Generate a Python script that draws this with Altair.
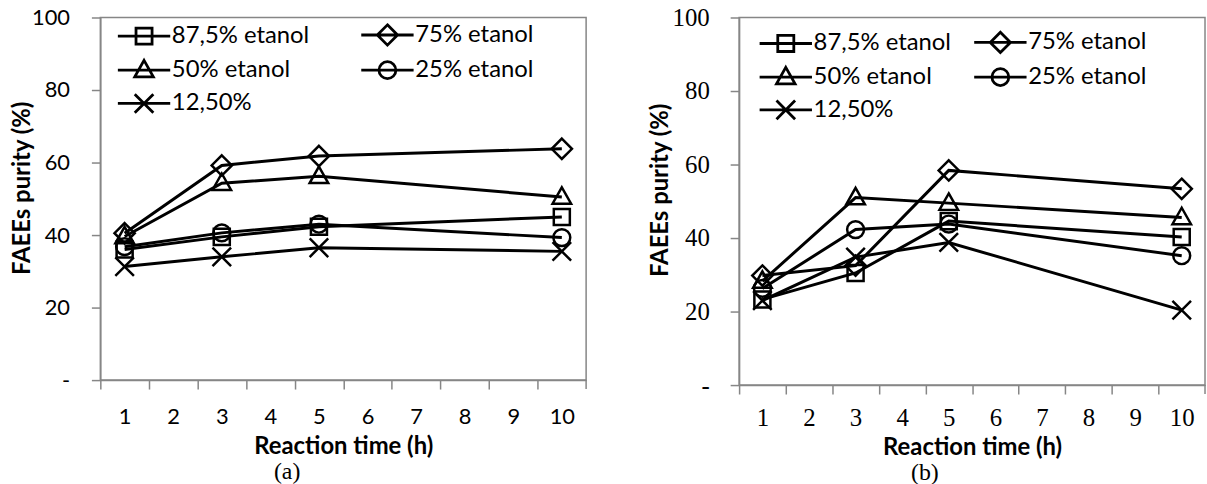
import altair as alt
import pandas as pd

# ---------------- data ----------------
times = [1, 3, 5, 10]
series = ["87,5% etanol", "75% etanol", "50% etanol", "25% etanol", "12,50%"]

a_875 = [36.0, 39.5, 42.3, 45.0]
a_75 = [40.5, 59.2, 61.8, 63.8]
a_50 = [39.6, 54.3, 56.2, 50.5]
a_25 = [36.8, 40.6, 43.0, 39.3]
a_125 = [31.3, 34.0, 36.5, 35.5]

b_875 = [23.3, 30.5, 44.6, 40.3]
b_75 = [29.8, 32.5, 58.4, 53.4]
b_50 = [28.3, 51.0, 49.5, 45.6]
b_25 = [26.3, 42.3, 43.8, 35.2]
b_125 = [23.0, 34.8, 38.8, 20.4]

x_labels = [1, 2, 3, 4, 5, 6, 7, 8, 9, 10]
x_ticks = [v - 0.5 for v in x_labels]          # left boundary of each category
x_end = [x_labels[-1] + 0.5]                   # right boundary of the last category
y_ticks = [0, 20, 40, 60, 80, 100]


def frame(vals):
    rows = []
    for name, ys in zip(series, vals):
        for t, v in zip(times, ys):
            rows.append({"series": name, "time": t, "purity": v})
    return pd.DataFrame(rows)


df_a = frame([a_875, a_75, a_50, a_25, a_125])
df_b = frame([b_875, b_75, b_50, b_25, b_125])
df_end = pd.DataFrame({"time": x_end})

# marker shapes (unit paths)
m_square = "M-0.95,-0.95H0.95V0.95H-0.95Z"
m_diamond = "M0,-1.2L1.2,0L0,1.2L-1.2,0Z"
m_triangle = "M0,-1.15L1.1,0.8H-1.1Z"
m_circle = "M1,0A1,1,0,1,1,-1,0A1,1,0,1,1,1,0Z"
m_x = "M-1.1,-1.1L1.1,1.1M1.1,-1.1L-1.1,1.1"
markers = [m_square, m_diamond, m_triangle, m_circle, m_x]
seg = "M-3.1,0H3.1"
legend_markers = [seg + m for m in markers]

GRAY = "#868686"


def panel(df, w, h, tick_font, tick_fs, xlab_pad, xtitle_pad, ylab_pad,
          ytitle_x, ytitle_y, leg_x, leg_y, col_pad, row_pad, tag, tag_dx, tag_off):
    cat_w = w / len(x_labels)
    xscale = alt.Scale(domain=[x_ticks[0], x_end[0]], nice=False, zero=False)
    x = alt.X(
        "time:Q",
        scale=xscale,
        axis=alt.Axis(
            values=x_ticks,
            labelExpr="format(datum.value + 0.5, 'd')",
            labelOffset=cat_w / 2,
            labelFlush=False,
            labelOverlap=False,
            tickSize=9,
            labelPadding=xlab_pad,
            labelFont=tick_font,
            labelFontSize=tick_fs,
            title="Reaction time (h)",
            titleFont="Lato",
            titleFontWeight="bold",
            titleFontSize=24,
            titlePadding=xtitle_pad,
        ),
    )
    y = alt.Y(
        "purity:Q",
        scale=alt.Scale(domain=[0, 100], nice=False, zero=True),
        axis=alt.Axis(
            values=y_ticks,
            labelExpr="datum.value == 0 ? '-' : datum.label",
            labelFlush=False,
            labelOverlap=False,
            tickSize=9,
            labelPadding=ylab_pad,
            labelFont=tick_font,
            labelFontSize=tick_fs,
            title="FAEEs purity (%)",
            titleFont="Lato",
            titleFontWeight="bold",
            titleFontSize=24,
            titleX=ytitle_x,
            titleY=ytitle_y,
        ),
    )
    base = alt.Chart(df)
    lines = base.mark_line(color="black", strokeWidth=3).encode(
        x=x, y=y, detail="series:N"
    )
    points = base.mark_point(
        filled=False, color="black", strokeWidth=2.5, size=289, opacity=1
    ).encode(
        x=x,
        y=y,
        shape=alt.Shape(
            "series:N",
            scale=alt.Scale(domain=series, range=markers),
            legend=None,
        ),
    )
    leg = base.mark_point(filled=False, color="black", size=4, opacity=0).encode(
        x=x,
        y=y,
        shape=alt.Shape(
            "series:N",
            scale=alt.Scale(domain=series, range=legend_markers),
            legend=alt.Legend(
                title=None,
                orient="none",
                legendX=leg_x,
                legendY=leg_y,
                direction="horizontal",
                columns=2,
                columnPadding=col_pad,
                rowPadding=row_pad,
                padding=0,
                labelFont="Lato",
                labelFontSize=24,
                labelColor="black",
                labelOffset=16,
                labelLimit=0,
                symbolSize=289,
                symbolStrokeWidth=2.8,
                symbolStrokeColor="black",
                symbolFillColor="transparent",
                symbolOpacity=1,
            ),
        ),
    )
    # tick mark at the right end of the category axis
    end_tick = alt.Chart(df_end).mark_rule(color=GRAY, strokeWidth=1.5).encode(
        x=alt.X("time:Q", scale=xscale),
        y=alt.value(h),
        y2=alt.value(h + 9),
    )
    return (
        alt.layer(lines, points, leg, end_tick)
        .resolve_scale(shape="independent")
        .properties(
            width=w,
            height=h,
            title=alt.TitleParams(
                tag,
                orient="bottom",
                anchor="middle",
                font="Liberation Serif",
                fontSize=24,
                fontWeight="normal",
                color="black",
                dx=tag_dx,
                offset=tag_off,
            ),
        )
    )


pa = panel(df_a, 489, 365, "Lato", 22, 18, 7, 22, -66.3, 171.5,
           32, 5.5, 46, 3.5, "(a)", -56.5, 2)
pb = panel(df_b, 469, 370, "Liberation Serif", 25, 11.5, 5, 21, -67.3, 173.5,
           35, 13, 17, 3, "(b)", -47.5, 2)

chart = (
    alt.hconcat(pa, pb, spacing=59)
    .properties(padding={"left": 9, "top": 3, "right": 0, "bottom": 0})
    .configure_view(stroke=GRAY, strokeWidth=1.5)
    .configure_axis(
        domainColor=GRAY,
        tickColor=GRAY,
        domainWidth=1.5,
        tickWidth=1.5,
        grid=False,
        labelColor="black",
        titleColor="black",
    )
)

chart.save("out.html", embed_options={"renderer": "svg", "actions": False})
